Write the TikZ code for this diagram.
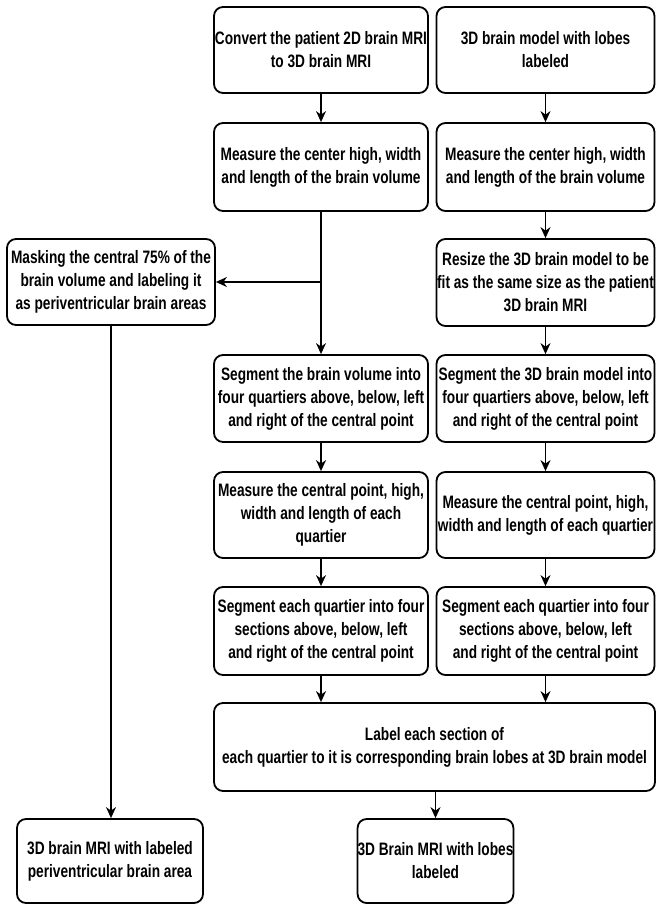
\documentclass[tikz,border=0pt]{standalone}
\usepackage{fontspec}
\newfontfamily\boxfont[FakeStretch=0.76]{Liberation Sans}
\usetikzlibrary{arrows.meta}
\begin{document}
\begin{tikzpicture}[x=1pt,y=-1pt,
  box/.style={draw, line width=1.8pt, rounded corners=9pt, inner sep=0pt, align=center,
    font=\boxfont\bfseries\fontsize{18}{23}\selectfont},
  conn/.style={line width=1.4pt, -{Stealth[length=11pt,width=10pt,inset=3.5pt]}}]
\useasboundingbox (0,0) rectangle (656,905);

\node[box, minimum width=214pt, minimum height=86pt] (c1) at (321,50) {Convert the patient 2D brain MRI\\to 3D brain MRI};
\node[box, minimum width=218pt, minimum height=86pt] (m1) at (545.5,50) {3D brain model with lobes\\labeled};

\node[box, minimum width=214pt, minimum height=88pt] (c2) at (321,167) {Measure the center high, width\\and length of the brain volume};
\node[box, minimum width=218pt, minimum height=88pt] (m2) at (545.5,167) {Measure the center high, width\\and length of the brain volume};

\node[box, minimum width=208pt, minimum height=86pt] (mask) at (111,282) {Masking the central 75\% of the\\brain volume and labeling it\\as periventricular brain areas};
\node[box, minimum width=218pt, minimum height=87pt] (m3) at (545.5,282.5) {Resize the 3D brain model to be\\fit as the same size as the patient\\3D brain MRI};

\node[box, minimum width=214pt, minimum height=87pt] (c3) at (321,398.5) {Segment the brain volume into\\four quartiers above, below, left\\and right of the central point};
\node[box, minimum width=218pt, minimum height=87pt] (m4) at (545.5,398.5) {Segment the 3D brain model into\\four quartiers above, below, left\\and right of the central point};

\node[box, minimum width=214pt, minimum height=86pt] (c4) at (321,515) {Measure the central point, high,\\width and length of each\\quartier};
\node[box, minimum width=218pt, minimum height=86pt] (m5) at (545.5,515) {Measure the central point, high,\\width and length of each quartier};

\node[box, minimum width=214pt, minimum height=88pt] (c5) at (321,631) {Segment each quartier into four\\sections above, below, left\\and right of the central point};
\node[box, minimum width=218pt, minimum height=88pt] (m6) at (545.5,631) {Segment each quartier into four\\sections above, below, left\\and right of the central point};

\node[box, minimum width=441pt, minimum height=88pt] (lab) at (434.5,747) {Label each section of\\each quartier to it is corresponding brain lobes at 3D brain model};

\node[box, minimum width=186pt, minimum height=84pt] (fL) at (110,861) {3D brain MRI with labeled\\periventricular brain area};
\node[box, minimum width=155pt, minimum height=84pt] (fM) at (435.5,861) {3D Brain MRI with lobes\\labeled};

\draw[conn] (c1) -- (c2);
\draw[conn] (m1) -- (m2);
\draw[conn] (c2) -- (c3);
\draw[conn] (c2.south |- mask.east) -- (mask.east);
\draw[conn] (m2) -- (m3);
\draw[conn] (m3) -- (m4);
\draw[conn] (c3) -- (c4);
\draw[conn] (m4) -- (m5);
\draw[conn] (c4) -- (c5);
\draw[conn] (m5) -- (m6);
\draw[conn] (c5.south) -- (c5.south |- lab.north);
\draw[conn] (m6.south) -- (m6.south |- lab.north);
\draw[conn] (fM.north |- lab.south) -- (fM.north);
\draw[conn] (mask.south) -- (mask.south |- fL.north);
\end{tikzpicture}
\end{document}
